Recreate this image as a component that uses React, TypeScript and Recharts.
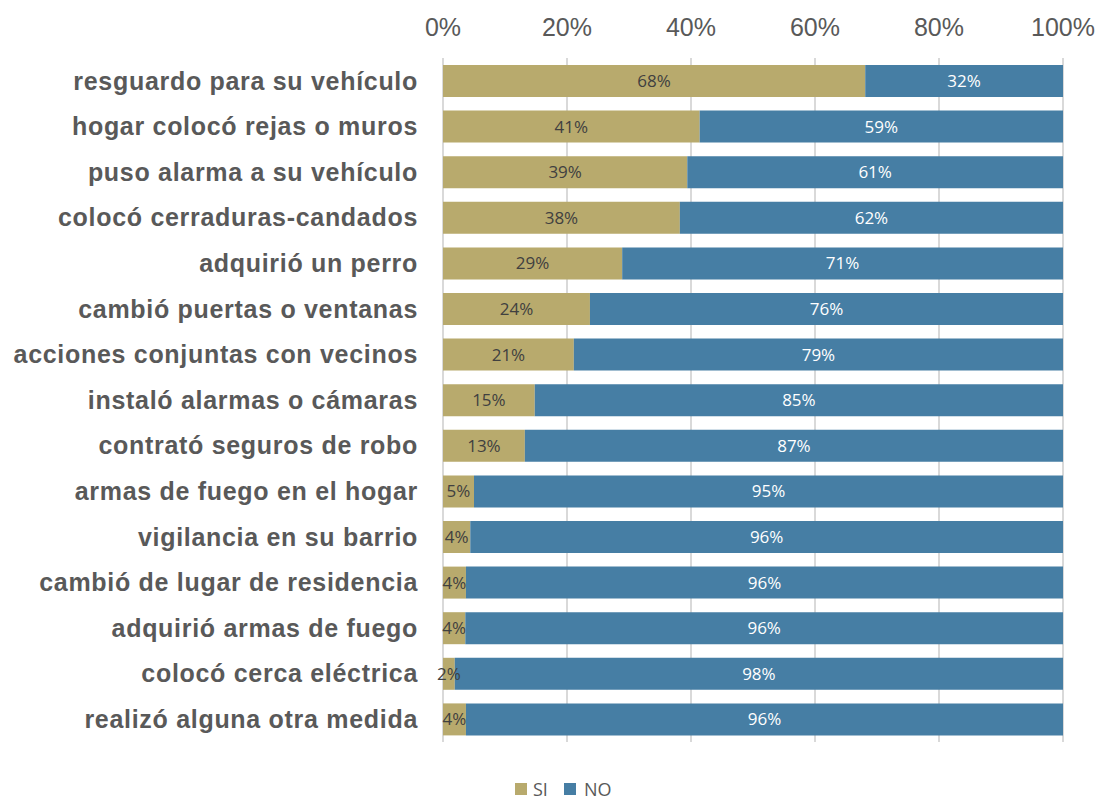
import React from "react";
import { BarChart, Bar, XAxis, YAxis, CartesianGrid, LabelList } from "recharts";

const categories = [
  "resguardo para su vehículo",
  "hogar colocó rejas o muros",
  "puso alarma a su vehículo",
  "colocó cerraduras-candados",
  "adquirió un perro",
  "cambió puertas o ventanas",
  "acciones conjuntas con vecinos",
  "instaló alarmas o cámaras",
  "contrató seguros de robo",
  "armas de fuego en el hogar",
  "vigilancia en su barrio",
  "cambió de lugar de residencia",
  "adquirió armas de fuego",
  "colocó cerca eléctrica",
  "realizó alguna otra medida",
];

const siValues = [68.1, 41.4, 39.4, 38.2, 28.9, 23.7, 21.1, 14.8, 13.2, 5.0, 4.4, 3.7, 3.6, 1.9, 3.7];
const noValues = [31.9, 58.6, 60.6, 61.8, 71.1, 76.3, 78.9, 85.2, 86.8, 95.0, 95.6, 96.3, 96.4, 98.1, 96.3];

const xTicks = [0, 20, 40, 60, 80, 100];

const SI_COLOR = "#B8AA6D";
const NO_COLOR = "#467EA4";

const data = categories.map((name, i) => ({ name, si: siValues[i], no: noValues[i] }));

const pct = (v: any) => `${Math.round(Number(v))}%`;

export default function App() {
  return (
    <div style={{ position: "absolute", left: 0, top: 0, width: 1100, height: 801, background: "#fff" }}>
      <BarChart
        width={1100}
        height={801}
        data={data}
        layout="vertical"
        margin={{ top: 0, right: 37, bottom: 59, left: 0 }}
        barSize={32}
      >
        <CartesianGrid horizontal={false} stroke="#D9D9D9" strokeWidth={2} />
        <XAxis
          type="number"
          orientation="top"
          domain={[0, 100]}
          ticks={xTicks}
          tickFormatter={(v) => `${v}%`}
          height={58}
          axisLine={false}
          tickLine={false}
          tickSize={0}
          tickMargin={22}
          tick={{ fill: "#595959", fontSize: 25, fontFamily: "'Liberation Sans', Arial, sans-serif" }}
          interval={0}
        />
        <YAxis
          type="category"
          dataKey="name"
          width={443}
          axisLine={false}
          tickLine={false}
          tickSize={0}
          tickMargin={25}
          interval={0}
          tick={{
            fill: "#595959",
            fontSize: 25,
            fontWeight: "bold",
            letterSpacing: 0.7,
            fontFamily: "'Liberation Sans', Arial, sans-serif",
          }}
        />
        <Bar dataKey="si" stackId="a" fill={SI_COLOR} isAnimationActive={false}>
          <LabelList
            dataKey="si"
            position="center"
            formatter={pct}
            fill="#404040"
            style={{ fontSize: 17, fontFamily: "'Open Sans', sans-serif" }}
          />
        </Bar>
        <Bar dataKey="no" stackId="a" fill={NO_COLOR} isAnimationActive={false}>
          <LabelList
            dataKey="no"
            position="center"
            formatter={pct}
            fill="#FFFFFF"
            style={{ fontSize: 17, fontFamily: "'Open Sans', sans-serif" }}
          />
        </Bar>
      </BarChart>
      <div
        style={{
          position: "absolute",
          left: 515,
          top: 779,
          height: 20,
          display: "flex",
          alignItems: "center",
          fontFamily: "'Open Sans', sans-serif",
          fontSize: 18,
          lineHeight: "20px",
          color: "#595959",
        }}
      >
        <span style={{ width: 12, height: 12, background: SI_COLOR, display: "inline-block", marginRight: 6 }} />
        <span style={{ marginRight: 16 }}>SI</span>
        <span style={{ width: 12, height: 12, background: NO_COLOR, display: "inline-block", marginRight: 8 }} />
        <span>NO</span>
      </div>
    </div>
  );
}
